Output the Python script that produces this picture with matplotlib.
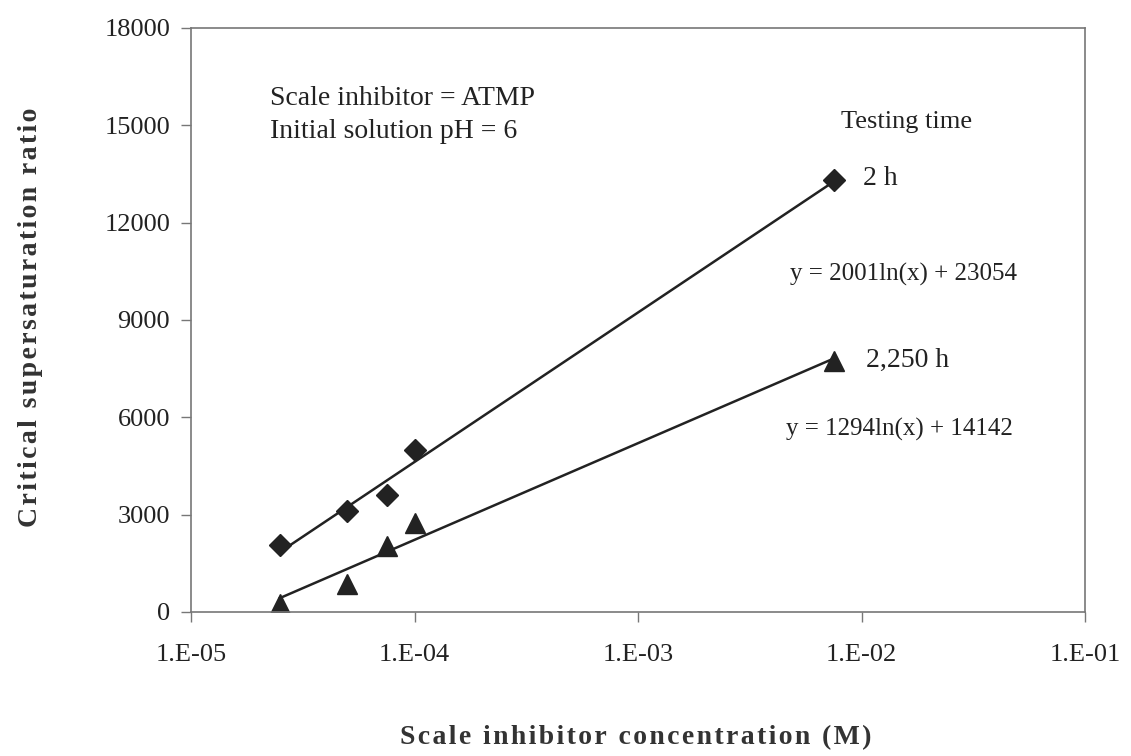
import matplotlib.pyplot as plt
import numpy as np

# inhibitor concentration (M) and critical supersaturation ratio
conc = [2.5e-5, 5.0e-5, 7.5e-5, 1.0e-4, 7.5e-3]
ratio_2h = [2060, 3100, 3620, 5000, 13300]
ratio_2250h = [260, 860, 2030, 2730, 7740]

# logarithmic trendline coefficients shown on the chart: y = a ln(x) + b
fit_2h = (2001, 23054)
fit_2250h = (1294, 14142)

xticks = [1e-5, 1e-4, 1e-3, 1e-2, 1e-1]
xticklabels = ["1.E-05", "1.E-04", "1.E-03", "1.E-02", "1.E-01"]
yticks = [0, 3000, 6000, 9000, 12000, 15000, 18000]

plt.rcParams['font.family'] = ['Liberation Serif', 'DejaVu Serif']
ink = "#222222"


def spaced(s, sep="\u200a"):
    """Add hair spaces between letters to mimic the wide tracking."""
    return sep.join(s)


fig = plt.figure(figsize=(11.31, 7.56), dpi=100)
ax = fig.add_axes([0.1689, 0.1905, 0.7905, 0.7725])

xs = np.logspace(np.log10(conc[0]), np.log10(conc[-1]), 200)
ax.plot(xs, fit_2h[0] * np.log(xs) + fit_2h[1], color=ink, lw=1.8)
ax.plot(xs, fit_2250h[0] * np.log(xs) + fit_2250h[1], color=ink, lw=1.8)

ax.plot(conc, ratio_2h, linestyle="none", marker="D", ms=11, color=ink)
ax.plot(conc, ratio_2250h, linestyle="none", marker="^", ms=14, color=ink)

ax.set_xscale("log")
ax.set_xlim(1e-5, 1e-1)
ax.set_ylim(0, 18000)
ax.set_xticks(xticks)
ax.set_xticklabels(xticklabels)
ax.minorticks_off()
ax.set_yticks(yticks)
ax.tick_params(axis="both", labelsize=19, direction="out", length=7, width=1,
               color="#777777", labelcolor=ink)
ax.tick_params(axis="x", pad=16)
ax.tick_params(axis="y", pad=8)
for sp in ax.spines.values():
    sp.set_color("#777777")
    sp.set_linewidth(1.2)

ax.text(0.088, 0.88, "Scale inhibitor = ATMP", transform=ax.transAxes,
        fontsize=20, color=ink, va="center")
ax.text(0.088, 0.823, "Initial solution pH = 6", transform=ax.transAxes,
        fontsize=20, color=ink, va="center")
ax.text(0.8, 0.839, "Testing time", transform=ax.transAxes,
        fontsize=19, color=ink, va="center", ha="center")
ax.text(0.752, 0.743, "2 h", transform=ax.transAxes,
        fontsize=20, color=ink, va="center")
ax.text(0.797, 0.578, "y = 2001ln(x) + 23054", transform=ax.transAxes,
        fontsize=18, color=ink, va="center", ha="center")
ax.text(0.755, 0.43, "2,250 h", transform=ax.transAxes,
        fontsize=20, color=ink, va="center")
ax.text(0.792, 0.312, "y = 1294ln(x) + 14142", transform=ax.transAxes,
        fontsize=18, color=ink, va="center", ha="center")

fig.text(0.562, 0.024, spaced("Scale inhibitor concentration (M)"),
         fontsize=20, fontweight="bold", color="#333333", ha="center", va="center")
fig.text(0.027, 0.58, spaced("Critical supersaturation ratio"),
         fontsize=20, fontweight="bold", color="#333333", ha="center", va="center",
         rotation=90)

fig.savefig("out.png", dpi=100, facecolor="white")
